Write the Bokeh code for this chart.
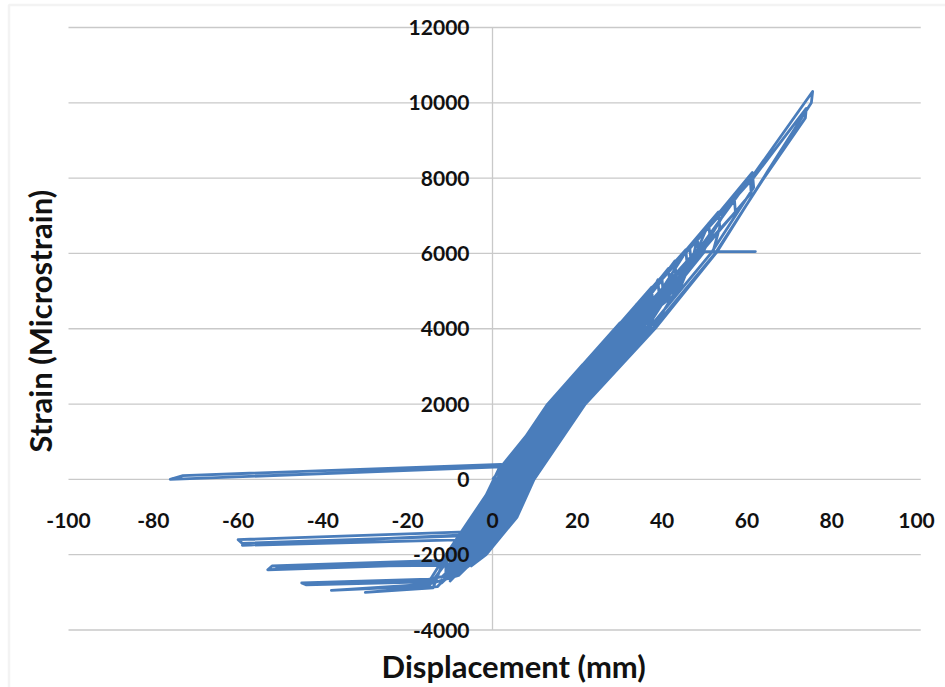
import math
from bokeh.plotting import figure
from bokeh.models import Range1d, LabelSet, Label, ColumnDataSource, BoxAnnotation
from bokeh.core.properties import value
from bokeh.embed import file_html
from bokeh.resources import INLINE

# ---------------- data ----------------
x_ticks = [-100, -80, -60, -40, -20, 0, 20, 40, 60, 80, 100]
y_ticks = [-4000, -2000, 0, 2000, 4000, 6000, 8000, 10000, 12000]
x_tick_labels = [str(v) for v in x_ticks]
y_tick_labels = [str(v) for v in y_ticks]

# small cycles
disp_a = [0, 6, 6.3, 6.6, 2.5, -5, -9,
          -9.5, -3.5, 2.5, 9.5, 9.8, 7.6, 3.5, -4, -8,
          -8, -2, 4, 9, 9.3, 5.6, 1.5, -3, -8, -60, -59, -7,
          -5, 1, 12.8, 13.2, 8.6, 4.5, -3, -9,
          -9, -3, 3, 12.5, 12.8, 6.1, 2, -1, -8, -59, -6,
          -4, 2, 14, 17.5, 17.8, 9.1, 5, -2.5, -6, -12, -52, -53, -12,
          -11, -5, 1, 13, 21.3, 21.6, 19, 7.1, 3, -4.5, -10,
          -8.5, -2.5, 3.5, 15.5, 21, 21.3, 20.2, 8.1, 4, -3.5, -7, -12, -51, -11]
strain_a = [0, 800, 450, 0, -1000, -2000, -2400,
            -2000, -1000, 0, 1350, 950, 0, -1000, -2000, -2300,
            -2000, -1000, 0, 1200, 800, 0, -1000, -1400, -1400, -1600, -1700, -1500,
            -1000, 0, 1950, 1550, 0, -1000, -2000, -2400,
            -2000, -1000, 0, 1800, 1400, 0, -1000, -1300, -1480, -1750, -1600,
            -1000, 0, 2000, 2500, 2100, 0, -1000, -2000, -2100, -2150, -2300, -2400, -2250,
            -2000, -1000, 0, 2000, 3050, 2650, 2000, 0, -1000, -2000, -2600,
            -2000, -1000, 0, 2000, 2900, 2500, 2000, 0, -1000, -2000, -2300, -2280, -2320, -2200]

# medium cycles
disp_b = [-10.5, -4.5, 1.5, 13.5, 25, 25.3, 21.7, 9.6, 5.6, -2, -8, -15, -45, -44, -15,
          -11, -5, 1, 13, 30, 30.3, 18.7, 6.6, 2.5, -5, -12,
          -7.5, -1.5, 4.5, 16.5, 29, 29.3, 20.7, 8.6, 4.5, -3, -8, -15, -38, -15,
          -9.5, -3.5, 2.5, 14.5, 30.5, 34, 34.3, 33.8, 17.7, 5.6, 1.5, -6, -13, -30, -14,
          -11, -5, 1, 13, 29, 37.5, 37.8, 35.8, 19.7, 7.6, 3.5, -4, -10,
          -7, -1, 5, 17, 33, 37, 37.3, 37.3, 21.2, 9.1, 5, -2.5, -7]
strain_b = [-2000, -1000, 0, 2000, 3500, 3100, 2000, 0, -1000, -2000, -2500, -2650, -2750, -2800, -2720,
            -2000, -1000, 0, 2000, 4150, 3750, 2000, 0, -1000, -2000, -2750,
            -2000, -1000, 0, 2000, 4000, 3600, 2000, 0, -1000, -2000, -2550, -2780, -2950, -2830,
            -2000, -1000, 0, 2000, 4000, 4650, 4250, 4000, 2000, 0, -1000, -2000, -2850, -3000, -2880,
            -2000, -1000, 0, 2000, 4000, 5100, 4700, 4000, 2000, 0, -1000, -2000, -2700,
            -2000, -1000, 0, 2000, 4000, 5000, 4600, 4000, 2000, 0, -1000, -2000, -2400]

# large cycles
disp_c = [-10, -4, 2, -73, -76, 2, 14, 30, 41.5, 41.8, 34.3, 18.2, 6.1, 2, -5.5, -11,
          -11, -5, 1, 13, 29, 45.6, 45.9, 36.3, 20.2, 8.1, 4, -3.5, -9,
          -8.5, -2.5, 3.5, 15.5, 31.5, 47.5, 48.3, 48.6, 37.8, 21.7, 9.6, 5.6, -2, -8,
          -11, -5, 1, 13, 29, 45, 53.3, 53.6, 52, 62, 50, 35.3, 19.2, 7.1, 3, -4.5, -9,
          -10.5, -4.5, 1.5, 13.5, 29.5, 45.5, 61.3, 61.6, 51.5, 36.8, 20.7, 8.6, 4.5, -3, -8,
          -10.5, -4.5, 1.5, 13.5, 29.5, 45.5, 61.5, 74, 73.8, 64, 52.5, 37.8, 21.7, 9.6, 5.6, -2, -8,
          -11, -5, 1, 13, 29, 45, 61, 75.5, 75.2, 65, 53, 38.3, 21.9, 9.8, 5.8, -1.5, -5]
strain_c = [-2000, -1000, 400, 100, 0, 330, 2000, 4000, 5600, 5200, 4000, 2000, 0, -1000, -2000, -2600,
            -2000, -1000, 0, 2000, 4000, 6100, 5700, 4000, 2000, 0, -1000, -2000, -2500,
            -2000, -1000, 0, 2000, 4000, 6000, 6400, 6000, 4000, 2000, 0, -1000, -2000, -2450,
            -2000, -1000, 0, 2000, 4000, 6000, 7100, 6700, 6050, 6050, 6050, 4000, 2000, 0, -1000, -2000, -2450,
            -2000, -1000, 0, 2000, 4000, 6000, 8150, 7750, 6000, 4000, 2000, 0, -1000, -2000, -2400,
            -2000, -1000, 0, 2000, 4000, 6000, 8000, 9850, 9600, 8000, 6000, 4000, 2000, 0, -1000, -2000, -2500,
            -2000, -1000, 0, 2000, 4000, 6000, 8000, 10300, 10000, 8200, 6050, 4000, 2000, 0, -1000, -2000, -2300]

# further cycles inside the band
disp_d = [-7, -1.5, 4.5, 16, 32, 36, 36.3, 34, 18.5, 7, 3, -4, -9,
          -9, -3, 3, 15, 31, 40, 40.3, 36.8, 20, 8, 4, -3, -10,
          -8, -2, 4, 16, 32, 48, 51, 51.3, 49.5, 34.8, 18.7, 6.6, 2.5, -5, -11,
          -7, -1, 5, 17, 33, 49, 57, 57.3, 48.5, 33.8, 17.7, 5.6, 1.5, -6, -10,
          -6, 0, 6, 18, 34, 46.5, 46.8, 44, 32.8, 16.7, 4.6, 0.5, -6.5, -11,
          -9, -3, 3, 15, 31, 43, 43.3, 40, 35.3, 19.2, 7.1, 3, -4.5, -9,
          -8, -2, 4, 16, 32, 48, 60.8, 61, 49, 34.3, 18.2, 6.1, 2, -5.5, -12,
          -6.5, -0.5, 5.5, 17.5, 33.5, 39, 39.3, 33.3, 17.2, 5.1, 1, -6.5, -10,
          -8, -2, 4, 16, 26.8, 27.1, 19.7, 7.6, 3.5, -4, -9,
          -9, -3, 3, 15, 31, 32.2, 32.5, 16.2, 4.1, 0, -7, -11]
strain_d = [-2000, -1000, 0, 2000, 4000, 4800, 4400, 4000, 2000, 0, -1000, -2000, -2500,
            -2000, -1000, 0, 2000, 4000, 5300, 4900, 4000, 2000, 0, -1000, -2000, -2500,
            -2000, -1000, 0, 2000, 4000, 6000, 6800, 6400, 6000, 4000, 2000, 0, -1000, -2000, -2550,
            -2000, -1000, 0, 2000, 4000, 6000, 7500, 7100, 6000, 4000, 2000, 0, -1000, -2000, -2650,
            -2000, -1000, 0, 2000, 4000, 6200, 5800, 5000, 4000, 2000, 0, -1000, -2000, -2450,
            -2000, -1000, 0, 2000, 4000, 5800, 5400, 4700, 4000, 2000, 0, -1000, -2000, -2550,
            -2000, -1000, 0, 2000, 4000, 6000, 8000, 7600, 6000, 4000, 2000, 0, -1000, -2000, -2600,
            -2000, -1000, 0, 2000, 4000, 5300, 4900, 4000, 2000, 0, -1000, -2000, -2450,
            -2000, -1000, 0, 2000, 3700, 3300, 2000, 0, -1000, -2000, -2350,
            -2000, -1000, 0, 2000, 4000, 4400, 4000, 2000, 0, -1000, -2000, -2300]

assert len(disp_a) == len(strain_a)
assert len(disp_b) == len(strain_b)
assert len(disp_c) == len(strain_c)
assert len(disp_d) == len(strain_d)

disp = disp_a + disp_b + disp_c + disp_d
strain = strain_a + strain_b + strain_c + strain_d

# ---------------- layout (pixels of the 945x687 canvas) ----------------
W, H = 945, 687
X_LEFT_PX, X_RIGHT_PX = 68, 916      # where -100 and 100 fall
Y_TOP_PX, Y_BOT_PX = 27, 629.5       # where 12000 and -4000 fall
ux = 200.0 / (X_RIGHT_PX - X_LEFT_PX)
uy = 16000.0 / (Y_BOT_PX - Y_TOP_PX)
x0 = -100 - X_LEFT_PX * ux
x1 = 100 + (W - X_RIGHT_PX) * ux
y1 = 12000 + Y_TOP_PX * uy
y0 = -4000 - (H - Y_BOT_PX) * uy

FONT = "Lato"
GRID = "#c9c9c9"
TXT = "#111111"

p = figure(width=W, height=H, x_range=Range1d(x0, x1), y_range=Range1d(y0, y1),
           x_axis_type=None, y_axis_type=None, output_backend="svg", toolbar_location=None,
           title=None, min_border=0)
p.min_border_left = p.min_border_right = p.min_border_top = p.min_border_bottom = 0
p.outline_line_color = None
p.background_fill_color = "white"
p.border_fill_color = "white"

# horizontal gridlines and the vertical value axis at x = 0
p.segment(x0=[-100] * len(y_ticks), y0=y_ticks, x1=[101] * len(y_ticks), y1=y_ticks,
          line_color=GRID, line_width=1.3)
p.segment(x0=[0], y0=[y_ticks[0]], x1=[0], y1=[y_ticks[-1]], line_color=GRID, line_width=1.3)

p.line(disp, strain, line_color="#4a7dbb", line_width=2.8, line_join="round")

xs = ColumnDataSource(dict(x=x_ticks, y=[0] * len(x_ticks), t=x_tick_labels))
p.add_layout(LabelSet(x="x", y="y", text="t", source=xs, y_offset=-41, text_align="center",
                      text_baseline="middle", text_font=value(FONT), text_font_style="bold",
                      text_font_size="21px", text_color=TXT))
ys = ColumnDataSource(dict(x=[0] * len(y_ticks), y=y_ticks, t=y_tick_labels))
p.add_layout(LabelSet(x="x", y="y", text="t", source=ys, x_offset=-23, text_align="right",
                      text_baseline="middle", text_font=value(FONT), text_font_style="bold",
                      text_font_size="21px", text_color=TXT))

p.add_layout(Label(x=5, y=-4000, y_offset=-36, text="Displacement (mm)", text_align="center",
                   text_baseline="middle", text_font=FONT, text_font_style="bold",
                   text_font_size="31px", text_color=TXT))
p.add_layout(Label(x=-100, y=4200, x_offset=-29, text="Strain (Microstrain)", angle=math.pi / 2,
                   text_align="center", text_baseline="middle", text_font=FONT, text_font_style="bold",
                   text_font_size="31px", text_color=TXT))

# light chart-area border (top and left edges visible)
p.add_layout(BoxAnnotation(left=x0 + 8.5 * ux, right=x1 + 50, top=y1 - 4.5 * uy, bottom=y0 - 5000,
                           fill_alpha=0, line_color="#d6d6d6", line_width=2.5))

open("out.html", "w").write(file_html(p, INLINE))
